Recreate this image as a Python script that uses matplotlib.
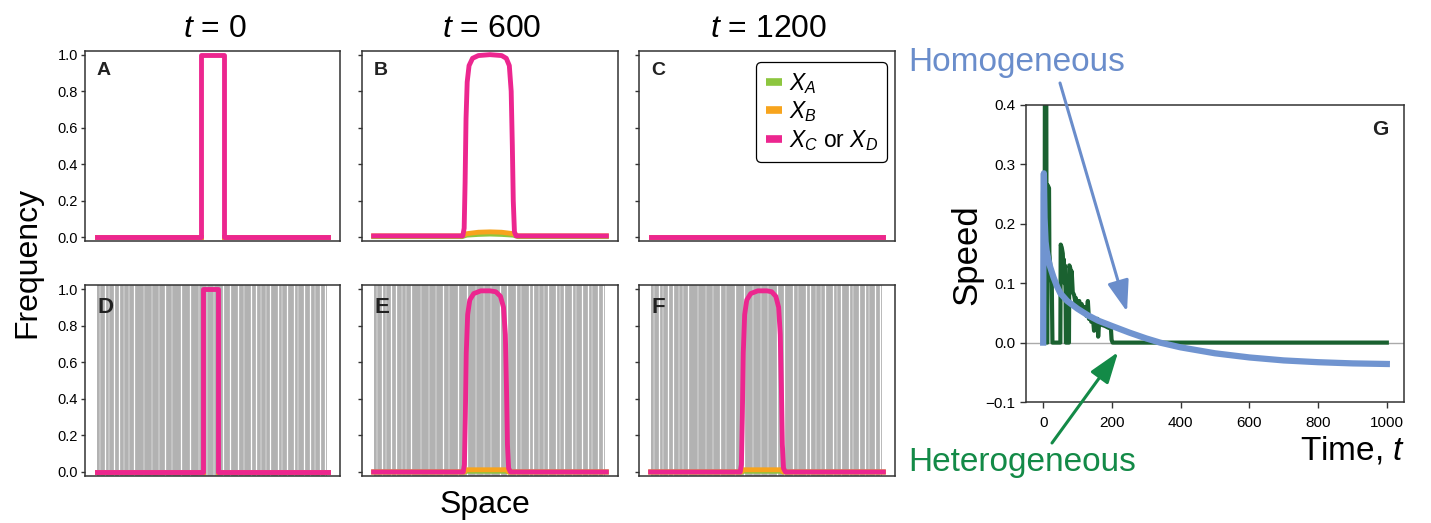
import matplotlib
matplotlib.use('Agg')
import matplotlib.pyplot as plt
from matplotlib.lines import Line2D

plt.rcParams['font.family'] = ['Liberation Sans', 'DejaVu Sans']
plt.rcParams['mathtext.fontset'] = 'custom'
plt.rcParams['mathtext.rm'] = 'Liberation Sans'
plt.rcParams['mathtext.it'] = 'Liberation Sans:italic'
plt.rcParams['mathtext.bf'] = 'Liberation Sans:bold'
plt.rcParams['axes.unicode_minus'] = True

NAN = float('nan')

# ---------------- data ----------------
column_titles = ['$t$ = 0', '$t$ = 600', '$t$ = 1200']
panel_letters = ['A', 'B', 'C', 'D', 'E', 'F']
legend_labels = ['$X_A$', '$X_B$', '$X_C$ or $X_D$']
freq_ticks = [0.0, 0.2, 0.4, 0.6, 0.8, 1.0]

# Homogeneous environment (top row)
A_x = [0, 45, 45, 55, 55, 100]
A_pink = [0, 0, 1, 1, 0, 0]
A_low_x = [0, 45, NAN, 55, 100]
A_orange = [0, 0, NAN, 0, 0]
A_green = [0, 0, NAN, 0, 0]

B_x = [0, 38.3, 38.9, 39.3, 39.7, 40.2, 41.0, 42.5, 45.0, 50.0, 55.0, 57.0, 58.3, 59.1, 59.6, 60.0, 60.5, 61.2, 100]
B_pink = [0.008, 0.008, 0.05, 0.3, 0.65, 0.85, 0.94, 0.98, 0.995, 1.0, 0.995, 0.98, 0.94, 0.8, 0.5, 0.2, 0.03, 0.008, 0.008]
B_low_x = [0, 38, 40, 45, 50, 55, 60, 62, 100]
B_orange = [0.008, 0.008, 0.02, 0.028, 0.03, 0.028, 0.02, 0.008, 0.008]
B_green = [0.004, 0.004, 0.012, 0.016, 0.018, 0.016, 0.012, 0.004, 0.004]

C_x = [0, 100]
C_pink = [0, 0]
C_orange = [0, 0]
C_green = [0, 0]

# Heterogeneous environment (bottom row)
D_x = [0, 46, 46, 52.5, 52.5, 100]
D_pink = [0, 0, 1, 1, 0, 0]
D_low_x = [0, 46, NAN, 52.5, 100]
D_orange = [0, 0, NAN, 0, 0]
D_green = [0, 0, NAN, 0, 0]

E_x = [0, 38.5, 39.0, 39.4, 39.8, 40.4, 41.3, 43.0, 46.0, 50.0, 52.5, 54.5, 55.8, 56.6, 57.1, 57.5, 58.0, 58.8, 100]
E_pink = [0, 0, 0.04, 0.3, 0.65, 0.86, 0.94, 0.975, 0.99, 0.99, 0.985, 0.96, 0.9, 0.75, 0.45, 0.15, 0.02, 0, 0]
E_low_x = [0, 39, 40, 57, 58, 100]
E_orange = [0, 0, 0.012, 0.012, 0, 0]
E_green = [0, 0, 0.004, 0.004, 0, 0]

F_x = [0, 38.5, 39.0, 39.4, 39.8, 40.4, 41.3, 43.0, 46.0, 50.0, 52.0, 53.8, 55.0, 55.7, 56.2, 56.6, 57.1, 57.9, 100]
F_pink = [0, 0, 0.04, 0.3, 0.65, 0.86, 0.94, 0.975, 0.99, 0.99, 0.985, 0.96, 0.9, 0.75, 0.45, 0.15, 0.02, 0, 0]
F_low_x = [0, 39, 40, 56, 57, 100]
F_orange = [0, 0, 0.012, 0.012, 0, 0]
F_green = [0, 0, 0.004, 0.004, 0, 0]

# heterogeneous landscape: extent, white gaps and lighter stripes (space units)
env_extent = [0, 99.5]
white_gaps = [3.8, 7.4, 9.6, 16.0, 29.6, 36.3, 40.3, 54.5, 57.5, 61.0, 66.6,
              68.6, 75.0, 78.3, 82.0, 85.2, 89.4, 92.0, 96.5, 98.5]
light_stripes = [1.5, 5.5, 12.0, 13.8, 20.5, 24.0, 27.0, 32.5, 44.0, 47.5,
                 50.5, 63.5, 71.0, 73.0, 80.0, 87.0, 94.0]

# Panel G: speed over time
hom_t = [0, 1, 2, 4, 7, 10, 15, 20, 30, 40, 50, 70, 100, 130, 160, 200, 250,
         300, 340, 400, 500, 600, 700, 800, 900, 1000]
hom_v = [0, 0.25, 0.285, 0.21, 0.17, 0.155, 0.14, 0.128, 0.11, 0.095, 0.083,
         0.07, 0.057, 0.046, 0.037, 0.028, 0.017, 0.007, 0.0, -0.008, -0.018,
         -0.025, -0.030, -0.033, -0.035, -0.036]
het_t = [0, 4, 5, 9, 10, 12, 13, 17, 18, 22, 25, 27, 50, 51, 54, 57, 59, 60,
         62, 63, 65, 66, 75, 76, 79, 81, 83, 86, 90, 93, 95, 100, 105, 108,
         112, 118, 122, 126, 130, 133, 136, 140, 145, 148, 152, 158, 160, 163,
         170, 180, 190, 197, 199, 202, 1000]
het_v = [0, 0, 0.45, 0.45, 0, 0, 0.265, 0.26, 0.15, 0.12, 0.10, 0, 0, 0.165,
         0.16, 0.15, 0.12, 0.14, 0.10, 0.13, 0.09, 0, 0, 0.13, 0.125, 0.09,
         0.12, 0.085, 0.08, 0.07, 0.075, 0.06, 0.07, 0.055, 0.065, 0.05, 0.06,
         0.045, 0.07, 0.04, 0.045, 0.035, 0.04, 0.02, 0.035, 0.04, 0.01, 0.035,
         0.03, 0.028, 0.025, 0.025, 0.005, 0, 0]
speed_xticks = [0, 200, 400, 600, 800, 1000]
speed_yticks = [-0.1, 0.0, 0.1, 0.2, 0.3, 0.4]

# ---------------- style ----------------
PINK = '#ec268f'
ORANGE = '#f7a41d'
LIME = '#8dc63f'
GRAY_ENV = '#b2b2b2'
LIGHT_ENV = '#c6c6c6'
BLUE_LINE = '#7094d0'
BLUE_TXT = '#6a8dcb'
GREEN_LINE = '#1a6130'
GREEN_TXT = '#138a47'
SPINE = '#333333'

W, H = 1431, 523
fig = plt.figure(figsize=(W / 100, H / 100), dpi=100)


def px_axes(l, t, r, b):
    return fig.add_axes([l / W, 1 - b / H, (r - l) / W, (b - t) / H])


cols = [(85, 340), (362, 618), (639, 895)]
rows = [(51, 241), (285, 476)]

panels = [
    (A_x, A_pink, A_low_x, A_orange, A_green),
    (B_x, B_pink, B_low_x, B_orange, B_green),
    (C_x, C_pink, C_x, C_orange, C_green),
    (D_x, D_pink, D_low_x, D_orange, D_green),
    (E_x, E_pink, E_low_x, E_orange, E_green),
    (F_x, F_pink, F_low_x, F_orange, F_green),
]

axes = []
for i, (px_, pk, lx, orv, grv) in enumerate(panels):
    r, c = divmod(i, 3)
    ax = px_axes(cols[c][0], rows[r][0], cols[c][1], rows[r][1])
    axes.append(ax)
    if r == 1:
        ax.axvspan(env_extent[0], env_extent[1], color=GRAY_ENV, lw=0, zorder=0)
        ax.vlines(light_stripes, 0, 1, transform=ax.get_xaxis_transform(),
                  colors=LIGHT_ENV, lw=1.3, zorder=0.5)
        ax.vlines(white_gaps, 0, 1, transform=ax.get_xaxis_transform(),
                  colors='white', lw=0.9, zorder=0.6)
    ax.plot(lx, grv, color=LIME, lw=3.5, zorder=2)
    ax.plot(lx, orv, color=ORANGE, lw=3.5, zorder=3)
    ax.plot(px_, pk, color=PINK, lw=3.5, zorder=4)
    ax.set_xlim(-5, 105)
    pad = 0.02 if r == 0 else 0.022
    ax.set_ylim(-pad, 1 + pad)
    ax.set_xticks([])
    ax.set_yticks(freq_ticks)
    ax.tick_params(axis='y', direction='out', length=3, width=1, colors=SPINE,
                   labelsize=10.5, labelcolor='black', pad=2)
    if c != 0:
        ax.set_yticklabels([])
    for s in ax.spines.values():
        s.set_color(SPINE)
        s.set_linewidth(1.1)
    if r == 0:
        ax.text(0.047, 0.874, panel_letters[i], transform=ax.transAxes,
                fontsize=14, fontweight='bold', color='#222222', va='baseline',
                ha='left', zorder=10)
    else:
        ax.text(0.05, 0.852, panel_letters[i], transform=ax.transAxes,
                fontsize=16, fontweight='bold', color='#222222', va='baseline',
                ha='left', zorder=10)

# column titles
for c, title in enumerate(column_titles):
    xc = (cols[c][0] + cols[c][1]) / 2 + 2
    fig.text(xc / W, 1 - 37 / H, title, ha='center', va='baseline', fontsize=23)

# legend in C
handles = [Line2D([], [], color=col, lw=5.5, solid_capstyle='butt')
           for col in (LIME, ORANGE, PINK)]
leg = axes[2].legend(handles, legend_labels, loc='upper right',
                     bbox_to_anchor=((887 - 639) / 256, (241 - 62) / 190),
                     borderaxespad=0, fontsize=16.5, handlelength=0.7,
                     handletextpad=0.3, labelspacing=0.15, borderpad=0.4,
                     frameon=True, fancybox=True, framealpha=1)
leg.get_frame().set_edgecolor('black')
leg.get_frame().set_linewidth(0.9)

fig.text(27 / W, 1 - 262 / H, 'Frequency', rotation=90, ha='center',
         va='center', fontsize=23)
fig.text(485 / W, 1 - 505 / H, 'Space', ha='center', va='center', fontsize=23)

# ---------------- panel G ----------------
axg = px_axes(1026, 105, 1404, 402)
axg.axhline(0, color='#aaaaaa', lw=1.0, zorder=1)
axg.plot(het_t, het_v, color=GREEN_LINE, lw=3, zorder=2)
axg.plot(hom_t, hom_v, color=BLUE_LINE, lw=4.5, zorder=3)
axg.set_xlim(-50, 1050)
axg.set_ylim(-0.1, 0.4)
axg.set_xticks(speed_xticks)
axg.set_yticks(speed_yticks)
axg.tick_params(direction='out', length=4, width=1, colors=SPINE,
                labelcolor='black', labelsize=11)
axg.tick_params(axis='x', pad=6)
for s in axg.spines.values():
    s.set_color(SPINE)
    s.set_linewidth(1.1)
axg.text((1388 - 1026) / 378, (402 - 135) / 297, 'G', transform=axg.transAxes,
         fontsize=15, fontweight='bold', color='#222222', ha='right',
         va='baseline')
fig.text(967 / W, 1 - 255 / H, 'Speed', rotation=90, ha='center', va='center',
         fontsize=25)
fig.text(1405 / W, 1 - 460 / H, 'Time, $t$', ha='right', va='baseline',
         fontsize=24)

fig.text(908 / W, 1 - 71 / H, 'Homogeneous', ha='left', va='baseline',
         fontsize=24, color=BLUE_TXT)
fig.text(908 / W, 1 - 471 / H, 'Heterogeneous', ha='left', va='baseline',
         fontsize=24, color=GREEN_TXT)

axg.annotate('', xy=(244, 0.052), xycoords='data',
             xytext=(1060, H - 83), textcoords='figure pixels',
             arrowprops=dict(arrowstyle='-|>,head_length=0.95,head_width=0.33',
                             mutation_scale=20, color=BLUE_TXT, lw=2.2,
                             shrinkA=0, shrinkB=0),
             annotation_clip=False)
axg.annotate('', xy=(218, -0.016), xycoords='data',
             xytext=(1052, H - 443), textcoords='figure pixels',
             arrowprops=dict(arrowstyle='-|>,head_length=0.95,head_width=0.33',
                             mutation_scale=20, color=GREEN_TXT, lw=2.2,
                             shrinkA=0, shrinkB=0),
             annotation_clip=False)

fig.savefig('out.png', dpi=100)
